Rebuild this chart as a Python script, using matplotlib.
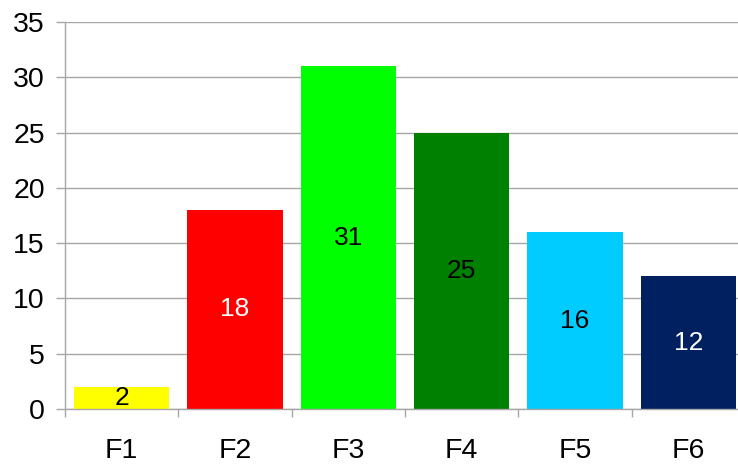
import numpy as np
import matplotlib
matplotlib.use("Agg")
import matplotlib.pyplot as plt

plt.rcParams["font.family"] = ["Liberation Sans", "DejaVu Sans"]

categories = ["F1", "F2", "F3", "F4", "F5", "F6"]
values     = [2, 18, 31, 25, 16, 12]
colors     = ["#ffff00", "#ff0000", "#00ff00", "#008000", "#00ccff", "#002060"]
txt_colors = ["black", "white", "black", "black", "black", "white"]

GRID = "#a6a6a6"

fig = plt.figure(figsize=(7.38, 4.66), dpi=100)
ax = fig.add_axes([0.0881, 0.1223, 0.9214, 0.8305])

x = np.arange(len(categories))
bars = ax.bar(x, values, 0.84, color=colors, zorder=2)
for b, v, tc in zip(bars, values, txt_colors):
    ax.text(b.get_x() + b.get_width() / 2, v / 2, str(v),
            ha="center", va="center", fontsize=19, color=tc, zorder=3)

ax.set_xlim(-0.5, len(categories) - 0.5)
ax.set_ylim(0, 35)
ax.set_yticks(range(0, 36, 5))
ax.yaxis.grid(True, color=GRID, lw=1.0)
ax.set_axisbelow(True)

ax.set_xticks(x)
ax.set_xticklabels(categories)
ax.set_xticks(np.arange(-0.5, len(categories)), minor=True)
ax.tick_params(axis="x", which="major", length=0, pad=21, labelsize=20.5)
ax.tick_params(axis="x", which="minor", length=6, color=GRID, width=1)
ax.tick_params(axis="y", length=6.5, color=GRID, width=1, pad=8, labelsize=20.5)

for s in ("top", "right"):
    ax.spines[s].set_visible(False)
for s in ("left", "bottom"):
    ax.spines[s].set_color(GRID)
    ax.spines[s].set_linewidth(1.0)

fig.savefig("out.png", dpi=100)
